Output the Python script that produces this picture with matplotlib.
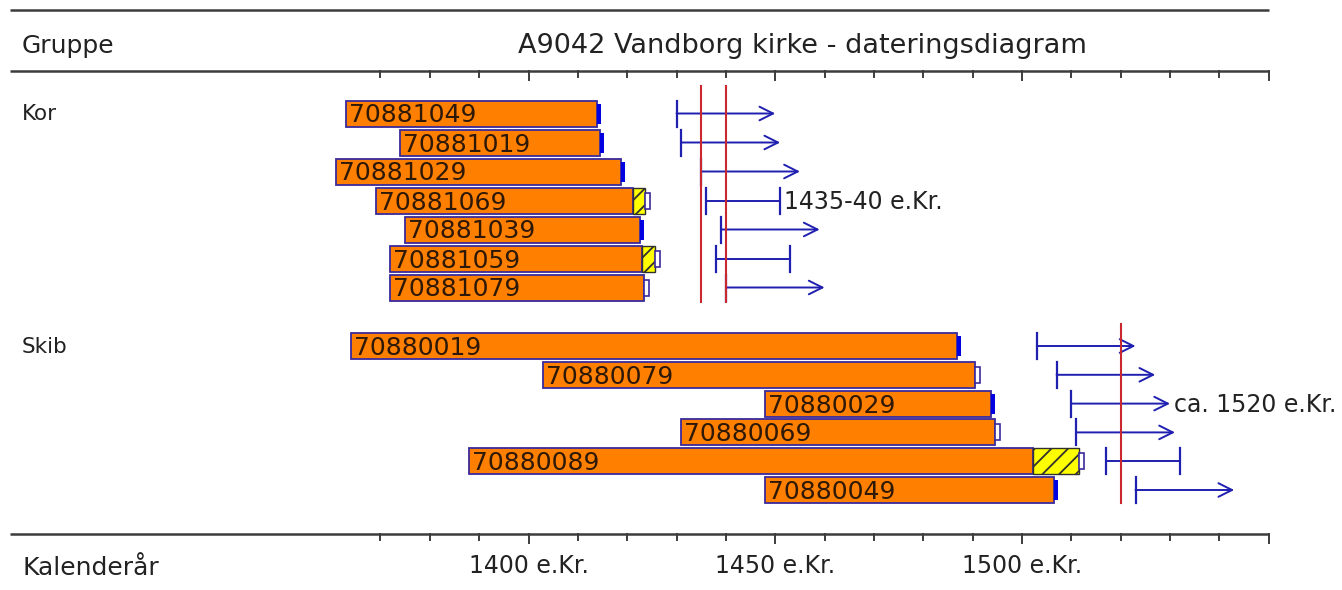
import matplotlib
matplotlib.use('Agg')

import matplotlib.pyplot as plt
from matplotlib.patches import Rectangle

# ---- data (years) ----
title = 'A9042 Vandborg kirke - dateringsdiagram'
groups = ['Kor', 'Skib']

kor_ids = ['70881049', '70881019', '70881029', '70881069', '70881039', '70881059', '70881079']
kor_start = [1363, 1374, 1361, 1369, 1375, 1372, 1372]
kor_heart_end = [1413.8, 1414.5, 1418.7, 1421.1, 1422.6, 1423.1, 1423.5]
kor_sap_end = [None, None, None, 1423.6, None, 1425.6, None]
kor_mark = ['solid', 'solid', 'solid', 'open', 'solid', 'open', 'open']
kor_fell_from = [1430, 1431, 1435, 1436, 1439, 1438, 1440]
kor_fell_to = [1450, 1451, 1455, 1451, 1459, 1453, 1460]
kor_fell_arrow = [True, True, True, False, True, False, True]
kor_dates = [1435, 1440]
kor_date_text = '1435-40 e.Kr.'
kor_date_row = 3

skib_ids = ['70880019', '70880079', '70880029', '70880069', '70880089', '70880049']
skib_start = [1364, 1403, 1448, 1431, 1388, 1448]
skib_heart_end = [1486.8, 1490.5, 1493.7, 1494.6, 1502.2, 1506.5]
skib_sap_end = [None, None, None, None, 1511.5, None]
skib_mark = ['solid', 'open', 'solid', 'open', 'open', 'solid']
skib_fell_from = [1503, 1507, 1510, 1511, 1517, 1523]
skib_fell_to = [1523, 1527, 1530, 1531, 1532, 1543]
skib_fell_arrow = [True, True, True, True, False, True]
skib_dates = [1520]
skib_date_text = 'ca. 1520 e.Kr.'
skib_date_row = 2

axis_ticks = list(range(1370, 1551, 10))
axis_labels = [1400, 1450, 1500]

# ---- style ----
ORANGE = '#ff8000'
EDGE = '#3a2a9c'
BLUE = '#1f1fb0'
RED = '#c8282e'
GREY = '#3c3c3c'
TXT = '#2e1806'

W, H = 1342, 590
PX = 4.935                      # pixels per year
X0 = 1400 - 528.5 / PX
X1 = X0 + W / PX


def yr(px):
    return X0 + px / PX


fig = plt.figure(figsize=(W / 100, H / 100), dpi=100)
ax = fig.add_axes([0, 0, 1, 1])
ax.set_xlim(X0, X1)
ax.set_ylim(H, 0)
ax.axis('off')
plt.rcParams['hatch.linewidth'] = 1.3

# header / footer lines with ticks
for yl in [10, 71, 534]:
    ax.plot([yr(10), axis_ticks[-1]], [yl, yl], color=GREY, lw=1.8, solid_capstyle='butt')
for yl in [71, 534]:
    for t in axis_ticks:
        ln = 9 if t % 50 == 0 else 6
        ax.plot([t, t], [yl, yl + ln], color=GREY, lw=1.4)
for t in axis_labels:
    ax.text(t, 573, '%d e.Kr.' % t, ha='center', va='baseline', fontsize=17, color='#222222')

ax.text(yr(22), 53, 'Gruppe', fontsize=18, va='baseline', color='#222222')
ax.text(yr(802), 53, title, fontsize=19.5, ha='center', va='baseline', color='#222222')
ax.text(yr(22), 575, 'Kalenderår', fontsize=18, va='baseline', color='#222222')


def draw_group(name, ids, start, heart_end, sap_end, mark, ff, ft, arrow,
               dates, date_text, date_row, y0, step, red_top, red_bot):
    ax.text(yr(22), y0 + 7, name, fontsize=15.5, va='baseline', color='#222222')
    for i in range(len(ids)):
        yc = y0 + i * step
        ax.add_patch(Rectangle((start[i], yc - 13), heart_end[i] - start[i], 26,
                               fc=ORANGE, ec=EDGE, lw=1.3, zorder=2))
        end = heart_end[i]
        if sap_end[i] is not None:
            ax.add_patch(Rectangle((end, yc - 13), sap_end[i] - end, 26, fc='#ffff00',
                                   ec='#303030', hatch='//', lw=1.0, zorder=2))
            end = sap_end[i]
        if mark[i] == 'solid':
            ax.add_patch(Rectangle((end, yc - 10), 4 / PX, 20, fc='#0000e0', ec='none', zorder=3))
        else:
            ax.add_patch(Rectangle((end, yc - 8), 5 / PX, 16, fc='white', ec=EDGE, lw=1.2, zorder=3))
        ax.text(start[i] + 3 / PX, yc + 9, ids[i], fontsize=18, color=TXT, va='baseline', zorder=4)

        # felling interval
        ax.plot([ff[i], ff[i]], [yc - 13, yc + 13], color=BLUE, lw=1.6, zorder=3)
        if arrow[i]:
            ax.annotate('', xy=(ft[i], yc), xytext=(ff[i], yc),
                        arrowprops=dict(arrowstyle='->,head_length=0.7,head_width=0.35',
                                        color=BLUE, lw=1.4, shrinkA=0, shrinkB=0,
                                        mutation_scale=14), zorder=3)
        else:
            ax.plot([ff[i], ft[i]], [yc, yc], color=BLUE, lw=1.4, zorder=3)
            ax.plot([ft[i], ft[i]], [yc - 13, yc + 13], color=BLUE, lw=1.6, zorder=3)

    for d in dates:
        ax.plot([d, d], [red_top, red_bot], color=RED, lw=1.5, zorder=5)

    yc = y0 + date_row * step
    ax.text(ft[date_row] + 4 / PX, yc + 8.5, date_text, fontsize=17, va='baseline',
            color='#222222')


draw_group(groups[0], kor_ids, kor_start, kor_heart_end, kor_sap_end, kor_mark,
           kor_fell_from, kor_fell_to, kor_fell_arrow, kor_dates, kor_date_text,
           kor_date_row, 113.5, 29.0, 86, 302)
draw_group(groups[1], skib_ids, skib_start, skib_heart_end, skib_sap_end, skib_mark,
           skib_fell_from, skib_fell_to, skib_fell_arrow, skib_dates, skib_date_text,
           skib_date_row, 346, 28.8, 324, 503)

plt.savefig('out.png', dpi=100)
plt.close(fig)
